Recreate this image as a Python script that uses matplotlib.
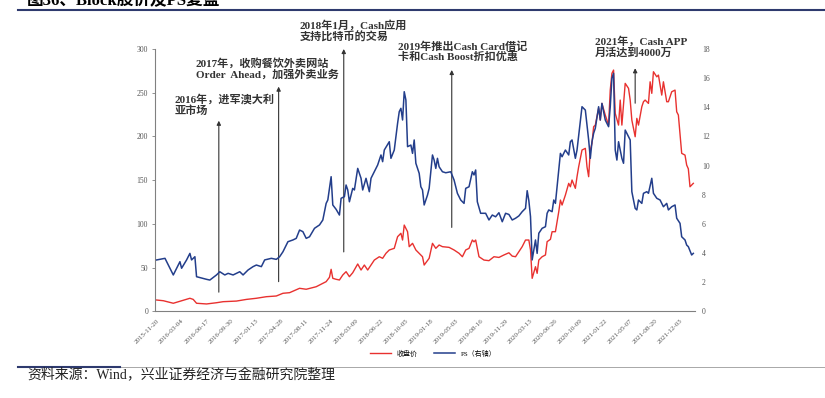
import matplotlib
matplotlib.use("Agg")
import matplotlib.pyplot as plt
from matplotlib.lines import Line2D

plt.rcParams['font.family'] = ['Liberation Serif', 'Noto Sans CJK SC']

# weekly index from 2015-11-20
tick_labels = ['2015-11-20', '2016-03-04', '2016-06-17', '2016-09-30', '2017-01-13',
               '2017-04-28', '2017-08-11', '2017-11-24', '2018-03-09', '2018-06-22',
               '2018-10-05', '2019-01-18', '2019-05-03', '2019-08-16', '2019-11-29',
               '2020-03-13', '2020-06-26', '2020-10-09', '2021-01-22', '2021-05-07',
               '2021-08-20', '2021-12-03']
tick_weeks = [i * 15 for i in range(len(tick_labels))]

# PS (right axis)
ps_weeks = [0, 5, 10, 14, 15, 18, 20, 21, 23, 24, 30, 32, 36, 38, 41, 43, 46, 50, 52, 55,
            58, 60, 63, 65, 69, 72, 74, 76, 79, 82, 84, 86, 88, 90, 92, 95, 98, 100, 102, 103,
            105, 106, 108, 110, 111, 113, 114, 115, 116, 118, 119, 121, 123, 124, 126, 128, 129,
            131, 133, 135, 136, 137, 140, 141, 143, 145, 146, 147, 148, 149, 150, 151, 153, 154,
            155, 156, 158, 159, 160, 161, 163, 164, 166, 167, 168, 169, 170, 172, 174, 177, 179,
            181, 183, 185, 186, 188, 190, 191, 192, 193, 195, 198, 200, 202, 204, 206, 208, 210,
            212, 214, 216, 218, 220, 222, 223, 224, 225, 226, 228, 229, 230, 232, 234, 235, 236,
            238, 239, 240, 241, 242, 243, 244, 246, 248, 249, 250, 252, 253, 255, 256, 258, 260,
            261, 262, 263, 264, 266, 267, 268, 270, 272, 273, 274, 275, 276, 277, 278, 280, 281,
            282, 284, 285, 286, 288, 289, 290, 292, 293, 295, 296, 298, 299, 301, 303, 305, 307,
            308, 310, 312, 313, 315, 316, 318, 319, 320, 322, 323]
ps = [3.53, 3.64, 2.50, 3.41, 2.96, 3.53, 3.98, 3.53, 3.75, 2.38, 2.20, 2.15, 2.50, 2.72, 2.50,
      2.61, 2.50, 2.72, 2.50, 2.84, 3.07, 3.18, 3.07, 3.53, 3.64, 3.57, 3.75, 4.09, 4.78, 4.90,
      5.01, 5.58, 5.47, 5.01, 5.12, 5.70, 5.93, 6.27, 7.41, 7.64, 9.24, 7.30, 7.00, 6.61, 7.76,
      7.87, 8.67, 8.33, 7.52, 8.44, 8.33, 9.81, 9.13, 8.33, 9.13, 8.21, 9.13, 9.58, 10.04, 10.73,
      10.27, 11.07, 11.64, 10.50, 11.07, 12.90, 13.70, 13.93, 13.13, 15.07, 14.50, 11.30, 11.41,
      10.84, 11.76, 10.16, 9.47, 8.55, 8.33, 7.30, 7.98, 8.44, 10.73, 10.38, 9.81, 10.50, 9.92,
      9.58, 9.51, 9.58, 9.01, 8.10, 7.64, 7.41, 8.44, 8.55, 9.58, 9.36, 9.70, 7.52, 6.73, 6.73,
      6.27, 6.61, 6.49, 6.77, 6.15, 6.73, 6.65, 6.27, 6.39, 6.55, 6.84, 7.07, 8.28, 7.60, 6.50,
      3.53, 4.90, 3.98, 5.36, 5.70, 5.81, 6.73, 6.96, 6.84, 7.64, 7.41, 8.55, 9.70, 10.84, 10.61,
      11.07, 10.73, 11.64, 11.76, 10.50, 11.07, 13.01, 14.04, 13.81, 11.76, 10.50, 11.64, 12.22,
      12.56, 14.04, 13.13, 14.27, 13.13, 12.67, 14.04, 15.99, 16.33, 11.07, 10.38, 11.64, 10.50,
      10.16, 12.44, 11.98, 11.76, 8.21, 7.07, 6.96, 7.64, 7.41, 8.10, 8.21, 8.10, 9.13, 8.10,
      7.76, 7.64, 7.18, 7.41, 6.96, 7.18, 7.30, 6.39, 6.04, 5.12, 4.90, 4.55, 4.44, 3.87, 3.98]

# closing price (left axis)
px_weeks = [0, 4, 10, 15, 20, 22, 24, 30, 36, 40, 48, 54, 60, 66, 72, 76, 80, 86, 90, 96, 102,
            104, 105, 106, 108, 110, 112, 114, 116, 118, 121, 123, 125, 127, 129, 131, 134, 136,
            138, 140, 143, 145, 147, 148, 149, 151, 152, 154, 156, 158, 160, 161, 164, 166, 168,
            170, 172, 176, 179, 182, 184, 186, 188, 190, 191, 192, 194, 197, 200, 203, 206, 209,
            212, 214, 216, 218, 220, 222, 224, 225, 226, 228, 229, 230, 232, 234, 235, 237, 238,
            240, 242, 243, 244, 246, 248, 249, 250, 252, 253, 254, 256, 258, 259, 260, 261, 262,
            263, 264, 266, 267, 268, 270, 272, 273, 274, 275, 276, 278, 279, 280, 282, 284, 285,
            286, 288, 289, 290, 292, 293, 294, 296, 297, 298, 299, 301, 302, 304, 305, 307, 308,
            310, 312, 313, 314, 316, 318, 319, 320, 321, 323]
price = [13.0, 12.2, 9.3, 12.2, 15.0, 13.7, 9.3, 8.5, 9.9, 11.1, 11.8, 13.7, 15.0, 16.8, 17.6,
         20.7, 21.4, 26.4, 25.3, 28.2, 34.0, 39.0, 48.1, 37.8, 36.7, 35.9, 41.6, 45.4, 39.7, 44.2,
         54.2, 47.3, 53.0, 47.3, 53.0, 58.7, 62.5, 60.7, 66.4, 70.2, 72.1, 85.4, 89.3, 81.6, 98.7,
         91.1, 74.0, 77.8, 70.2, 66.4, 62.5, 53.0, 60.7, 77.8, 72.1, 75.9, 74.0, 73.2, 70.2, 66.4,
         62.5, 70.2, 72.1, 81.6, 79.5, 81.6, 62.5, 58.7, 58.0, 62.5, 61.7, 64.5, 67.0, 63.2, 62.5,
         68.2, 74.0, 81.6, 81.6, 70.2, 37.8, 51.1, 43.5, 58.7, 62.5, 64.5, 79.7, 82.4, 91.1, 91.1,
         113.9, 127.3, 121.6, 133.0, 146.4, 142.5, 150.2, 140.7, 154.0, 165.4, 184.5, 186.4, 165.4,
         154.0, 184.5, 192.1, 211.1, 213.0, 232.1, 218.7, 237.8, 224.5, 213.0, 253.0, 272.1, 275.9,
         226.4, 213.0, 241.6, 213.0, 260.7, 255.0, 241.6, 218.7, 199.7, 220.7, 213.0, 234.0, 239.7,
         241.6, 237.8, 262.5, 249.3, 274.0, 268.2, 270.2, 247.3, 262.5, 239.7, 239.7, 251.1, 253.0,
         228.2, 224.5, 180.7, 178.7, 167.3, 163.0, 142.5, 146.4]

notes = ['2016年，进军澳大利\n亚市场',
         '2017年，收购餐饮外卖网站\nOrder  Ahead，加强外卖业务',
         '2018年1月，Cash应用\n支持比特币的交易',
         '2019年推出Cash Card借记\n卡和Cash Boost折扣优惠',
         '2021年，Cash APP\n月活达到4000万']

red = '#e8312f'
blue = '#233e8b'
grey = '#555555'

fig = plt.figure(figsize=(8.25, 3.98), dpi=100)
ax = fig.add_axes([0.1879, 0.2176, 0.6545, 0.6593])
ax2 = ax.twinx()

l1, = ax.plot(px_weeks, price, color=red, lw=1.0, label='收盘价')
l2, = ax2.plot(ps_weeks, ps, color=blue, lw=1.1, label='PS（右轴）')

ax.set_xlim(-1, 324)
ax.set_ylim(0, 300)
ax2.set_ylim(0, 18)
ax.set_yticks(range(0, 301, 50))
ax2.set_yticks(range(0, 19, 2))
ax.set_xticks(tick_weeks)
ax.set_xticklabels(tick_labels, rotation=45, ha='right', va='top', rotation_mode='anchor',
                   fontsize=5, color=grey)
ax.tick_params(axis='x', length=0, pad=5)
ax.tick_params(axis='y', length=2, width=0.6, color='#808080', labelsize=5.5,
               labelcolor=grey, pad=3)
ax2.tick_params(axis='y', length=0, labelsize=5.5, labelcolor=grey, pad=5)

for sp in ['top', 'right']:
    ax.spines[sp].set_visible(False)
for sp in ['top', 'right', 'left', 'bottom']:
    ax2.spines[sp].set_visible(False)
ax.spines['left'].set_color('#808080')
ax.spines['bottom'].set_color('#808080')
ax.spines['left'].set_linewidth(0.8)
ax.spines['bottom'].set_linewidth(0.8)

# event arrows (tip, base) and note anchors
arrows = [((37.4, 218), (37.4, 22)), ((73.4, 257), (73.4, 34)), ((112.6, 300), (112.6, 68)),
          ((177.6, 276), (177.6, 96)), ((288, 278), (288, 238))]
for tip, base in arrows:
    ax.annotate('', xy=tip, xytext=base, annotation_clip=False,
                arrowprops=dict(arrowstyle='-|>', color='#333333', lw=0.8,
                                mutation_scale=6, shrinkA=0, shrinkB=0))
note_pos = [(11, 236), (23.6, 277.6), (86, 320.6), (145, 296.8), (263.6, 302.2)]
for (x, y), s in zip(note_pos, notes):
    ax.text(x, y, s, fontsize=8, fontweight='bold', color='#333333', va='center',
            ha='left', linespacing=1.05, clip_on=False)

fig.legend([l1, l2], ['收盘价', 'PS（右轴）'], loc='center', bbox_to_anchor=(0.525, 0.113),
           ncol=2, frameon=False, handlelength=3, columnspacing=2.5,
           prop={'family': ['Liberation Serif', 'Noto Sans CJK SC'], 'size': 5})

# header / footer decoration
fig.text(27 / 825, 1 - 5 / 398, '图36、Block股价及PS复盘', fontsize=12, fontweight='bold',
         va='baseline', ha='left')
fig.add_artist(Line2D([18 / 825, 1], [1 - 10 / 398] * 2, color='#2e3a6e', lw=1.5))
fig.add_artist(Line2D([18 / 825, 1], [1 - 366.7 / 398] * 2, color='#9a9a9a', lw=0.6))
fig.add_artist(Line2D([18 / 825, 120 / 825], [1 - 366.7 / 398] * 2, color='#2e3a6e', lw=1.5))
fig.text(27 / 825, 1 - 375 / 398, '资料来源：Wind，兴业证券经济与金融研究院整理', fontsize=10,
         va='center', ha='left', color='#222222')

fig.savefig('out.png', dpi=100)
